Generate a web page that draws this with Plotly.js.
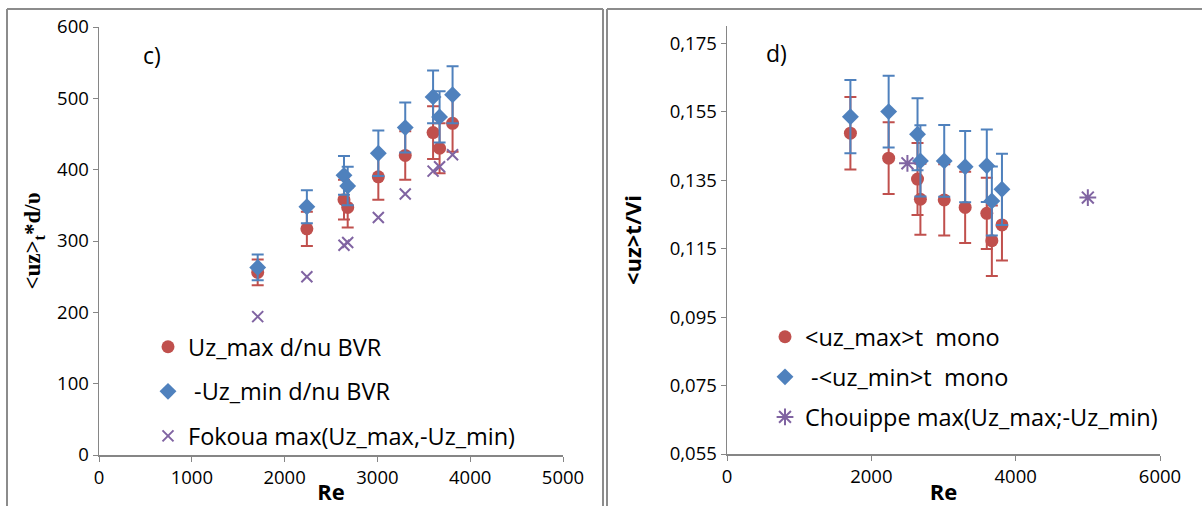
<!DOCTYPE html>
<html>
<head>
<meta charset="utf-8">
<script src="https://cdn.plot.ly/plotly-3.0.1.min.js"></script>
<style>html,body{margin:0;padding:0;background:#fff;}#chart{width:1202px;height:506px;}</style>
</head>
<body>
<div id="chart"></div>
<script>
// ---- Panel c) data ----
const reC = [1710, 2240, 2640, 2680, 3010, 3300, 3600, 3670, 3810];
const uzMaxBVR = [256, 317, 358, 347, 390, 420, 452, 430, 465];
const uzMaxBVRErr = [18, 24, 28, 28, 32, 34, 37, 35, 40];
const uzMinBVR = [263, 348, 392, 377, 423, 459, 502, 474, 505];
const uzMinBVRErr = [18, 23, 27, 27, 32, 35, 37, 36, 40];
const fokoua = [194, 250, 294, 298, 333, 366, 398, 404, 421];

// ---- Panel d) data ----
const reD = [1710, 2240, 2640, 2680, 3010, 3300, 3600, 3670, 3810];
const uzMaxMono = [0.1487, 0.1414, 0.1353, 0.1294, 0.1292, 0.1270, 0.1253, 0.1173, 0.1219];
const uzMaxMonoErr = [0.0106, 0.0105, 0.0105, 0.0104, 0.0104, 0.0104, 0.0104, 0.0103, 0.0104];
const uzMinMono = [0.1535, 0.1550, 0.1484, 0.1406, 0.1406, 0.1389, 0.1392, 0.1289, 0.1323];
const uzMinMonoErr = [0.0107, 0.0105, 0.0105, 0.0104, 0.0105, 0.0104, 0.0106, 0.0101, 0.0104];
const reChouippe = [2500, 5000];
const chouippe = [0.1399, 0.1299];

const RED = '#C0504D', BLUE = '#4F81BD', PURPLE = '#8064A2';
const W = 1202, H = 506;
const px = v => v / W, py = v => 1 - v / H;

const traces = [
  {x: reC, y: uzMaxBVR, type: 'scatter', mode: 'markers', name: 'Uz_max d/nu BVR', xaxis: 'x', yaxis: 'y', legend: 'legend', legendgroup: 'a',
   marker: {symbol: 'circle', size: 13, color: RED},
   error_y: {type: 'data', array: uzMaxBVRErr, visible: true, color: RED, thickness: 2, width: 6}},
  {x: reC, y: uzMinBVR, type: 'scatter', mode: 'markers', name: ' -Uz_min d/nu BVR', xaxis: 'x', yaxis: 'y', legend: 'legend', legendgroup: 'b',
   marker: {symbol: 'diamond', size: 13, color: BLUE},
   error_y: {type: 'data', array: uzMinBVRErr, visible: true, color: BLUE, thickness: 2, width: 6}},
  {x: reC, y: fokoua, type: 'scatter', mode: 'markers', name: 'Fokoua max(Uz_max,-Uz_min)', xaxis: 'x', yaxis: 'y', legend: 'legend', legendgroup: 'c',
   marker: {symbol: 'x-thin-open', size: 11, color: PURPLE, line: {color: PURPLE, width: 2}}},
  {x: reD, y: uzMaxMono, type: 'scatter', mode: 'markers', name: '&lt;uz_max&gt;t&nbsp; mono', xaxis: 'x2', yaxis: 'y2', legend: 'legend2', legendgroup: 'd',
   marker: {symbol: 'circle', size: 13, color: RED},
   error_y: {type: 'data', array: uzMaxMonoErr, visible: true, color: RED, thickness: 2, width: 6}},
  {x: reD, y: uzMinMono, type: 'scatter', mode: 'markers', name: ' -&lt;uz_min&gt;t&nbsp; mono', xaxis: 'x2', yaxis: 'y2', legend: 'legend2', legendgroup: 'e',
   marker: {symbol: 'diamond', size: 13, color: BLUE},
   error_y: {type: 'data', array: uzMinMonoErr, visible: true, color: BLUE, thickness: 2, width: 6}},
  {x: reChouippe, y: chouippe, type: 'scatter', mode: 'markers', name: 'Chouippe max(Uz_max;-Uz_min)', xaxis: 'x2', yaxis: 'y2', legend: 'legend2', legendgroup: 'f',
   marker: {symbol: 'asterisk-open', size: 14, color: PURPLE, line: {color: PURPLE, width: 2}}}
];

const FONT = 'Open Sans, Noto Sans, sans-serif';
const axisCommon = {showgrid: false, zeroline: false, showline: true, linecolor: '#868686', linewidth: 1.5,
  ticks: 'outside', ticklen: 5, tickcolor: '#868686', tickfont: {family: FONT, size: 18.5, color: '#000'}, fixedrange: true};

const layout = {
  width: W, height: H,
  margin: {l: 0, r: 0, t: 0, b: 0},
  paper_bgcolor: '#fff', plot_bgcolor: '#fff',
  separators: ', ',
  showlegend: true,
  font: {family: FONT, color: '#000'},
  xaxis: Object.assign({}, axisCommon, {domain: [px(99), px(563)], range: [0, 5000], dtick: 1000, tick0: 0, anchor: 'y',
    title: {text: '<b>Re</b>', font: {family: FONT, size: 22}, standoff: 2}}),
  yaxis: Object.assign({}, axisCommon, {domain: [py(455), py(27)], range: [0, 600], dtick: 100, tick0: 0, anchor: 'x',
    title: {text: '<b>&lt;uz&gt;<sub>t</sub>*d/υ</b>', font: {family: 'Liberation Serif, serif', size: 23}, standoff: 10}}),
  xaxis2: Object.assign({}, axisCommon, {domain: [px(727), px(1160)], range: [0, 6000], dtick: 2000, tick0: 0, anchor: 'y2',
    title: {text: '<b>Re</b>', font: {family: FONT, size: 22}, standoff: 2}}),
  yaxis2: Object.assign({}, axisCommon, {domain: [py(454), py(26)], range: [0.055, 0.18], dtick: 0.02, tick0: 0.055, tickformat: '.3f', anchor: 'x2',
    title: {text: '<b>&lt;uz&gt;t/Vi</b>', font: {family: FONT, size: 22}, standoff: 22}}),
  legend: {x: px(148), y: py(325), xanchor: 'left', yanchor: 'top', bgcolor: 'rgba(0,0,0,0)',
    font: {family: FONT, size: 23.5}, tracegroupgap: 11, traceorder: 'grouped'},
  legend2: {x: px(765), y: py(315), xanchor: 'left', yanchor: 'top', bgcolor: 'rgba(0,0,0,0)',
    font: {family: FONT, size: 23.5}, tracegroupgap: 6.5, traceorder: 'grouped'},
  annotations: [
    {text: 'c)', xref: 'paper', yref: 'paper', x: px(152), y: py(55), showarrow: false, font: {family: FONT, size: 23}, xanchor: 'center', yanchor: 'middle'},
    {text: 'd)', xref: 'paper', yref: 'paper', x: px(776), y: py(53), showarrow: false, font: {family: FONT, size: 23}, xanchor: 'center', yanchor: 'middle'}
  ],
  shapes: [
    {type: 'line', xref: 'paper', yref: 'paper', x0: px(7), x1: px(7), y0: py(9), y1: 0, line: {color: '#8c8c8c', width: 2}},
    {type: 'line', xref: 'paper', yref: 'paper', x0: px(7), x1: px(603), y0: py(9), y1: py(9), line: {color: '#8c8c8c', width: 2}},
    {type: 'line', xref: 'paper', yref: 'paper', x0: px(603), x1: px(603), y0: py(9), y1: 0, line: {color: '#8c8c8c', width: 2}},
    {type: 'line', xref: 'paper', yref: 'paper', x0: px(607), x1: px(607), y0: py(9), y1: 0, line: {color: '#8c8c8c', width: 2}},
    {type: 'line', xref: 'paper', yref: 'paper', x0: px(607), x1: 1, y0: py(9), y1: py(9), line: {color: '#8c8c8c', width: 2}}
  ]
};

Plotly.newPlot('chart', traces, layout, {displayModeBar: false, staticPlot: true});
</script>
</body>
</html>
